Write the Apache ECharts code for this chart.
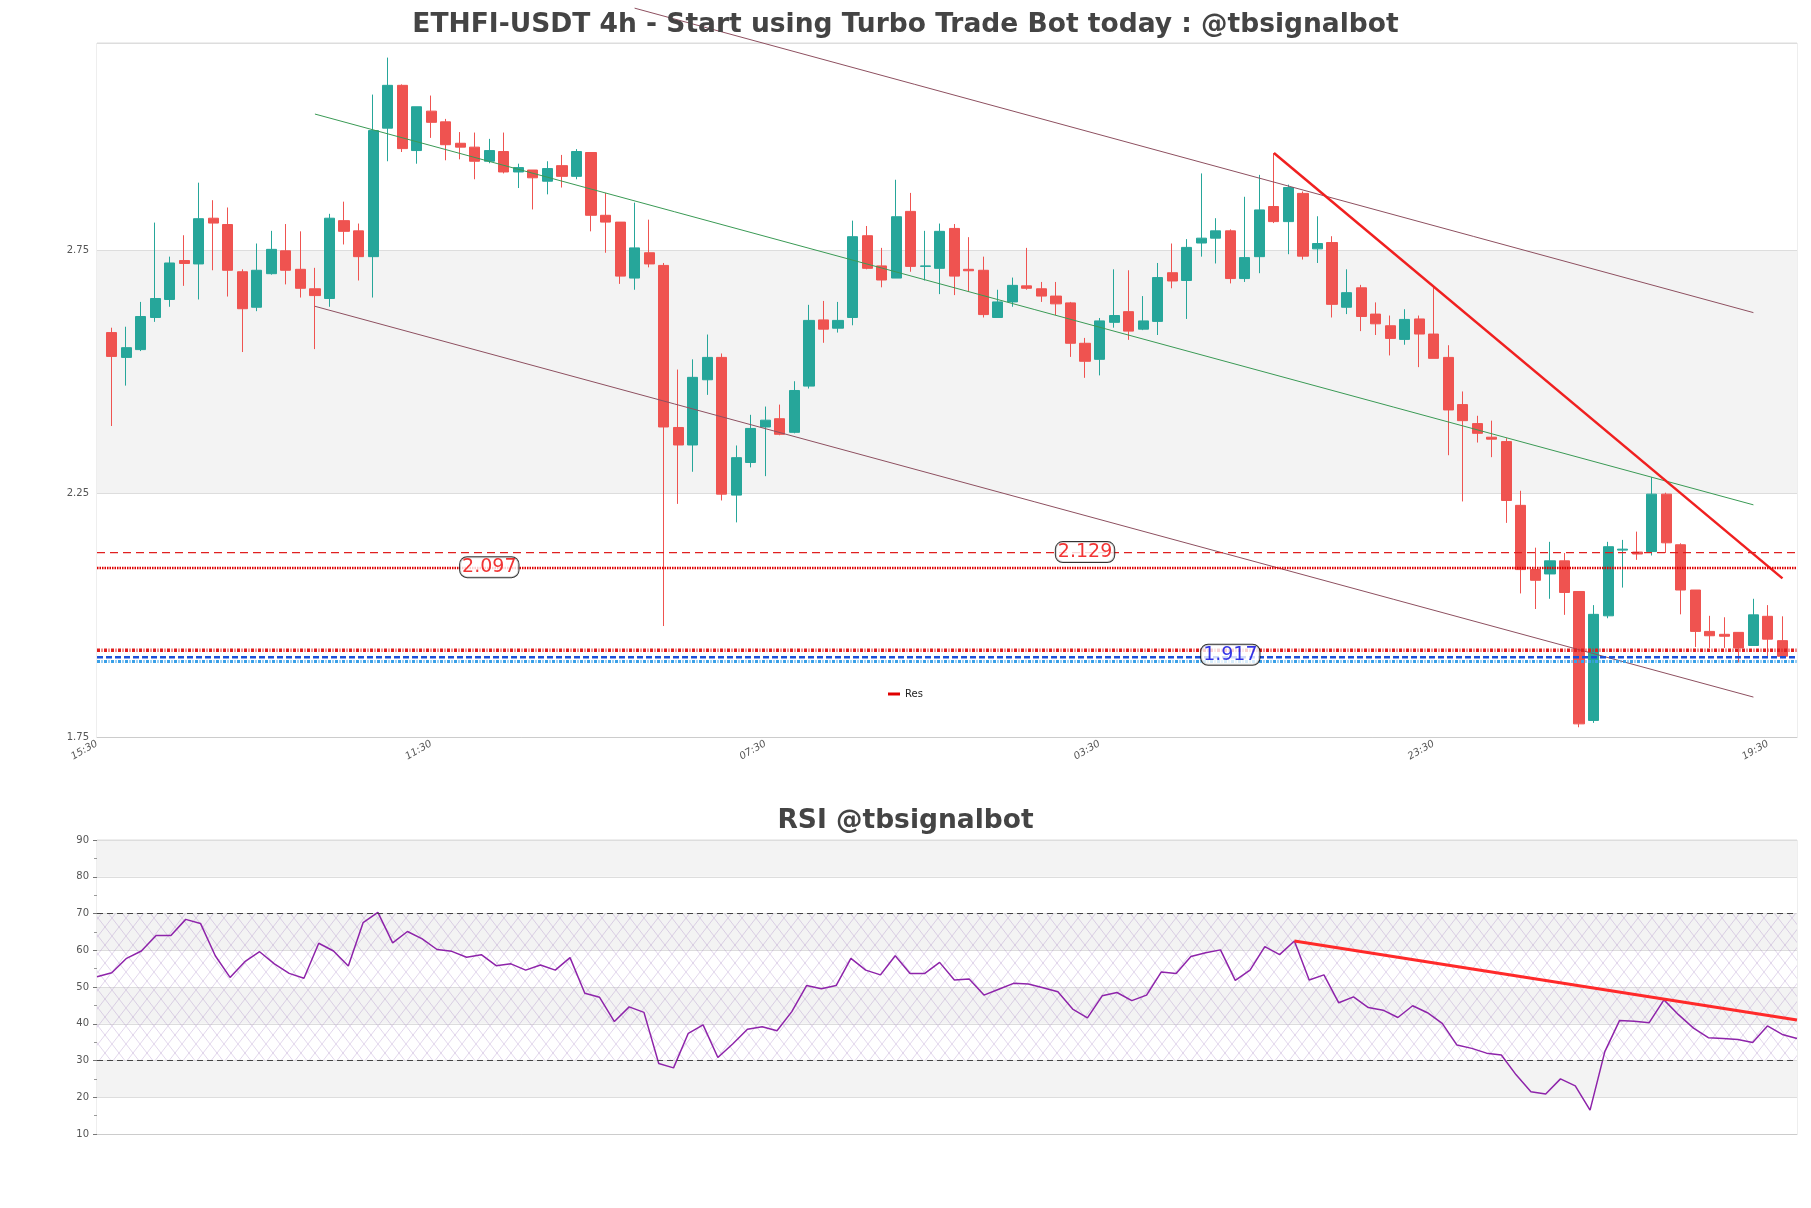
<!DOCTYPE html>
<html>
<head>
<meta charset="utf-8">
<script src="https://cdn.jsdelivr.net/npm/echarts@6/dist/echarts.min.js"></script>
<style>
  html, body { margin: 0; padding: 0; background: #fff; }
  #chart { width: 1811px; height: 1208px; }
</style>
</head>
<body>
<div id="chart"></div>
<script>
// 4h candles, first one at 19:30 (slot 0 = 15:30 is left empty, like the last slot)
const startTime = "15:30";
const stepHours = 4;
const slotCount = 118;

const opens = [
  2.581, 2.530, 2.546, 2.612, 2.649, 2.729, 2.722, 2.816, 2.803, 2.706,
  2.633, 2.702, 2.749, 2.711, 2.671, 2.651, 2.811, 2.790, 2.737, 3.001,
  3.089, 2.955, 3.036, 3.014, 2.970, 2.962, 2.933, 2.953, 2.911, 2.915,
  2.892, 2.924, 2.902, 2.951, 2.822, 2.808, 2.693, 2.745, 2.719, 2.386,
  2.350, 2.484, 2.530, 2.247, 2.314, 2.387, 2.404, 2.376, 2.471, 2.607,
  2.590, 2.612, 2.780, 2.718, 2.693, 2.830, 2.717, 2.713, 2.795, 2.711,
  2.709, 2.612, 2.644, 2.677, 2.671, 2.656, 2.642, 2.559, 2.526, 2.602,
  2.624, 2.588, 2.604, 2.704, 2.688, 2.765, 2.775, 2.790, 2.692, 2.737,
  2.840, 2.809, 2.867, 2.753, 2.766, 2.633, 2.673, 2.619, 2.595, 2.567,
  2.609, 2.578, 2.530, 2.433, 2.394, 2.366, 2.357, 2.226, 2.094, 2.085,
  2.112, 2.049, 1.784, 1.999, 2.134, 2.130, 2.131, 2.249, 2.145, 2.052,
  1.967, 1.961, 1.965, 1.938, 1.998, 1.948
];
const closes = [
  2.532, 2.550, 2.614, 2.651, 2.724, 2.723, 2.815, 2.806, 2.709, 2.630,
  2.709, 2.752, 2.709, 2.672, 2.657, 2.816, 2.789, 2.737, 2.996, 3.089,
  2.959, 3.045, 3.013, 2.967, 2.962, 2.933, 2.955, 2.911, 2.920, 2.899,
  2.918, 2.902, 2.953, 2.822, 2.808, 2.697, 2.755, 2.722, 2.387, 2.350,
  2.489, 2.530, 2.249, 2.324, 2.384, 2.401, 2.372, 2.462, 2.606, 2.588,
  2.606, 2.778, 2.713, 2.689, 2.819, 2.717, 2.718, 2.789, 2.697, 2.708,
  2.618, 2.644, 2.678, 2.672, 2.656, 2.640, 2.559, 2.522, 2.605, 2.616,
  2.584, 2.605, 2.694, 2.687, 2.756, 2.775, 2.790, 2.692, 2.735, 2.833,
  2.809, 2.879, 2.738, 2.764, 2.639, 2.663, 2.614, 2.599, 2.569, 2.608,
  2.578, 2.528, 2.422, 2.400, 2.374, 2.362, 2.236, 2.094, 2.072, 2.112,
  2.047, 1.777, 2.002, 2.141, 2.136, 2.126, 2.249, 2.149, 2.052, 1.967,
  1.958, 1.957, 1.933, 2.001, 1.951, 1.916
];
const lows = [
  2.389, 2.472, 2.543, 2.603, 2.634, 2.677, 2.649, 2.709, 2.655, 2.541,
  2.625, 2.700, 2.680, 2.653, 2.547, 2.634, 2.762, 2.688, 2.653, 2.933,
  2.952, 2.928, 2.981, 2.935, 2.937, 2.896, 2.929, 2.908, 2.878, 2.834,
  2.865, 2.879, 2.896, 2.789, 2.745, 2.681, 2.669, 2.715, 1.978, 2.229,
  2.295, 2.453, 2.236, 2.191, 2.304, 2.286, 2.370, 2.374, 2.466, 2.560,
  2.581, 2.596, 2.711, 2.674, 2.693, 2.706, 2.688, 2.660, 2.658, 2.665,
  2.612, 2.612, 2.634, 2.669, 2.644, 2.617, 2.531, 2.488, 2.493, 2.591,
  2.566, 2.586, 2.576, 2.672, 2.609, 2.737, 2.723, 2.682, 2.685, 2.703,
  2.806, 2.742, 2.731, 2.724, 2.612, 2.619, 2.584, 2.576, 2.534, 2.556,
  2.510, 2.528, 2.329, 2.234, 2.355, 2.325, 2.190, 2.045, 2.013, 2.034,
  2.001, 1.770, 1.779, 1.994, 2.057, 2.114, 2.123, 2.128, 2.002, 1.935,
  1.933, 1.933, 1.903, 1.938, 1.914, 1.912
];
const highs = [
  2.591, 2.593, 2.644, 2.807, 2.737, 2.781, 2.889, 2.853, 2.838, 2.711,
  2.764, 2.790, 2.804, 2.789, 2.714, 2.825, 2.850, 2.805, 3.070, 3.146,
  3.091, 3.045, 3.068, 3.020, 2.993, 2.992, 2.979, 2.992, 2.928, 2.915,
  2.933, 2.946, 2.958, 2.951, 2.868, 2.808, 2.848, 2.813, 2.724, 2.505,
  2.526, 2.577, 2.538, 2.349, 2.412, 2.429, 2.433, 2.481, 2.638, 2.646,
  2.644, 2.811, 2.800, 2.755, 2.895, 2.868, 2.790, 2.805, 2.804, 2.777,
  2.737, 2.669, 2.694, 2.755, 2.685, 2.685, 2.644, 2.570, 2.611, 2.711,
  2.709, 2.656, 2.724, 2.764, 2.773, 2.908, 2.816, 2.793, 2.860, 2.905,
  2.950, 2.885, 2.871, 2.820, 2.779, 2.711, 2.679, 2.643, 2.616, 2.629,
  2.616, 2.675, 2.555, 2.460, 2.410, 2.400, 2.364, 2.256, 2.139, 2.151,
  2.128, 2.049, 2.021, 2.151, 2.155, 2.172, 2.284, 2.252, 2.148, 2.052,
  1.999, 1.996, 1.965, 2.034, 2.021, 1.998
];

const rsi = [
  52.8, 53.9, 57.8, 59.8, 64.0, 64.0, 68.4, 67.3, 58.5, 52.6,
  56.9, 59.6, 56.3, 53.7, 52.4, 61.9, 59.8, 55.7, 67.5, 70.3,
  62.0, 65.1, 63.1, 60.2, 59.7, 58.1, 58.8, 55.8, 56.3, 54.6,
  56.0, 54.6, 58.0, 48.3, 47.2, 40.6, 44.6, 43.1, 29.2, 28.0,
  37.4, 39.7, 30.8, 34.5, 38.5, 39.2, 38.1, 43.3, 50.4, 49.5,
  50.4, 57.8, 54.6, 53.3, 58.5, 53.7, 53.7, 56.7, 51.9, 52.2,
  47.8, 49.4, 51.0, 50.8, 49.8, 48.7, 44.0, 41.6, 47.6, 48.5,
  46.3, 47.8, 54.1, 53.7, 58.3, 59.3, 60.1, 51.8, 54.6, 61.0,
  58.8, 62.5, 51.9, 53.3, 45.7, 47.3, 44.4, 43.7, 41.7, 44.9,
  43.0, 40.1, 34.2, 33.3, 32.0, 31.5, 26.1, 21.5, 20.9, 25.0,
  23.1, 16.5, 32.4, 40.9, 40.7, 40.3, 46.5, 42.4, 38.8, 36.2,
  36.0, 35.7, 34.9, 39.4, 37.1, 36.0
];

// trend lines: [slot, price] end points
const channelTop = [[37, 3.2476], [114, 2.622]];
const channelMid = [[15, 3.030], [114, 2.227]];
const channelLow = [[15, 2.635], [114, 1.832]];
const breakLine = [[81, 2.950], [116, 2.076]];
const rsiTrend = [[81, 62.5], [115, 41.0]];

// horizontal levels
const level2129 = 2.129;
const level2097 = 2.097;
const resLevel = 1.928;
const lastPrice = 1.914;
const supLevel = 1.905;

// boxed price tags: [slot, price, text]
const priceTags = [[27, 2.099, "2.097"], [68, 2.130, "2.129"], [78, 1.919, "1.917"]];

const priceMin = 1.75;
const priceMax = 3.176;
const rsiMin = 10;
const rsiMax = 90;

function buildTimes() {
  const [h0, m0] = startTime.split(":").map(Number);
  const out = [];
  for (let i = 0; i < slotCount; i++) {
    const h = (h0 + i * stepHours) % 24;
    out.push(String(h).padStart(2, "0") + ":" + String(m0).padStart(2, "0"));
  }
  return out;
}

function hatchPattern() {
  const c = document.createElement("canvas");
  c.width = 14;
  c.height = 18;
  const ctx = c.getContext("2d");
  ctx.strokeStyle = "rgba(150,110,185,0.4)";
  ctx.lineWidth = 0.7;
  ctx.beginPath();
  ctx.moveTo(0, 0); ctx.lineTo(14, 18);
  ctx.moveTo(14, 0); ctx.lineTo(0, 18);
  ctx.stroke();
  return c;
}

const times = buildTimes();
const candles = [["-", "-", "-", "-"]].concat(
  opens.map((o, i) => [o, closes[i], lows[i], highs[i]])
);

function flat(v) {
  return [[0, v], [slotCount - 1, v]];
}

function trend(name, data, color, width, extra) {
  return Object.assign({
    name: name,
    type: "line",
    data: data,
    showSymbol: false,
    silent: true,
    animation: false,
    clip: false,
    lineStyle: { color: color, width: width },
    z: 4,
  }, extra || {});
}

const axisFont = { fontFamily: "DejaVu Sans", fontSize: 10, color: "#555" };
const titleFont = { fontFamily: "DejaVu Sans", fontWeight: "bold", fontSize: 26.5, color: "#444" };

const chart = echarts.init(document.getElementById("chart"));

chart.setOption({
  backgroundColor: "#fff",
  animation: false,
  title: [
    { text: "ETHFI-USDT 4h - Start using Turbo Trade Bot today : @tbsignalbot", left: "center", top: 7, textStyle: titleFont },
    { text: "RSI @tbsignalbot", left: "center", top: 803, textStyle: titleFont },
  ],
  legend: {
    data: [{ name: "Res", icon: "rect" }],
    left: 883,
    top: 684,
    itemWidth: 12,
    itemHeight: 3,
    itemStyle: { color: "#e00000" },
    textStyle: { fontFamily: "DejaVu Sans", fontSize: 10, color: "#222" },
  },
  grid: [
    { left: 97, right: 14, top: 43, height: 694, show: true, borderColor: "#ddd", borderWidth: 1 },
    { left: 97, right: 14, top: 840, height: 294, show: true, borderColor: "#ddd", borderWidth: 1 },
  ],
  xAxis: [
    {
      type: "category",
      gridIndex: 0,
      data: times,
      boundaryGap: false,
      axisLine: { lineStyle: { color: "#ccc" } },
      axisTick: { show: false },
      axisLabel: Object.assign({ interval: 22, rotate: 30, margin: 6, fontStyle: "italic" }, axisFont),
      splitLine: { show: false },
    },
    {
      type: "category",
      gridIndex: 1,
      data: times.slice(1, 1 + rsi.length),
      boundaryGap: false,
      axisLine: { lineStyle: { color: "#ccc" } },
      axisTick: { show: false },
      axisLabel: { show: false },
      splitLine: { show: false },
    },
  ],
  yAxis: [
    {
      type: "value",
      gridIndex: 0,
      min: priceMin,
      max: priceMax,
      interval: 0.5,
      axisLine: { show: false },
      axisTick: { show: false },
      axisLabel: Object.assign({ showMaxLabel: false, margin: 8 }, axisFont),
      splitLine: { lineStyle: { color: "#ddd" } },
      splitArea: { show: true, areaStyle: { color: ["#ffffff", "#f3f3f3"] } },
    },
    {
      type: "value",
      gridIndex: 1,
      min: rsiMin,
      max: rsiMax,
      interval: 10,
      axisLine: { show: false },
      axisTick: { show: true, length: 4, lineStyle: { color: "#777" } },
      minorTick: { show: true, splitNumber: 2, length: 3, lineStyle: { color: "#999" } },
      axisLabel: Object.assign({ margin: 8 }, axisFont),
      splitLine: { lineStyle: { color: "#ddd" } },
      splitArea: { show: true, areaStyle: { color: ["#ffffff", "#f3f3f3"] } },
    },
  ],
  series: [
    {
      name: "K",
      type: "candlestick",
      xAxisIndex: 0,
      yAxisIndex: 0,
      data: candles,
      barWidth: "73%",
      itemStyle: {
        color: "#26a69a",
        color0: "#ef5350",
        borderColor: "#26a69a",
        borderColor0: "#ef5350",
        borderWidth: 1,
      },
      z: 3,
    },
    trend("chTop", channelTop, "#8e5060", 1),
    trend("chMid", channelMid, "#3a9a55", 1),
    trend("chLow", channelLow, "#8e5060", 1),
    trend("brk", breakLine, "#f02020", 2.5),
    trend("l2129", flat(level2129), "#e02020", 1.3, { lineStyle: { color: "#e02020", width: 1.3, type: [8, 5] } }),
    trend("l2097", flat(level2097), "#e00000", 2.5, { lineStyle: { color: "#e00000", width: 2.5, type: [1.5, 1] } }),
    trend("Res", flat(resLevel), "#e00000", 3.5, { lineStyle: { color: "#e02020", width: 3.5, type: [3, 1.5, 1, 1.5] } }),
    trend("last", flat(lastPrice), "#1a4fd8", 2.5, { lineStyle: { color: "#1a4fd8", width: 2.5, type: [6, 3] } }),
    trend("sup", flat(supLevel), "#3aa0e8", 3, { lineStyle: { color: "#3aa0e8", width: 3, type: [3, 1.5, 1, 1.5] } }),
    {
      name: "tags",
      type: "scatter",
      xAxisIndex: 0,
      yAxisIndex: 0,
      symbolSize: 1,
      itemStyle: { color: "rgba(0,0,0,0)" },
      silent: true,
      z: 10,
      data: priceTags.map((t) => ({
        value: [t[0], t[1]],
        label: {
          show: true,
          position: "inside",
          formatter: t[2],
          fontFamily: "DejaVu Sans",
          fontSize: 19,
          color: t[1] < 2 ? "#0000e0" : "#ee0000",
          backgroundColor: "#fff",
          borderColor: "#000",
          borderWidth: 1,
          borderRadius: 7,
          padding: [1, 2, 0, 2],
        },
      })),
    },
    {
      name: "RSI",
      type: "line",
      xAxisIndex: 1,
      yAxisIndex: 1,
      data: rsi,
      showSymbol: false,
      lineStyle: { color: "#8e24aa", width: 1.5 },
      z: 3,
      markArea: {
        silent: true,
        itemStyle: { color: { image: hatchPattern(), repeat: "repeat" } },
        data: [[{ yAxis: 30 }, { yAxis: 70 }]],
      },
      markLine: {
        silent: true,
        symbol: "none",
        label: { show: false },
        lineStyle: { color: "#444", width: 1.2, type: [6, 4] },
        data: [{ yAxis: 70 }, { yAxis: 30 }],
      },
    },
    Object.assign(trend("rsiTrend", rsiTrend, "#ff2a2a", 3), { xAxisIndex: 1, yAxisIndex: 1 }),
  ],
});
</script>
</body>
</html>
